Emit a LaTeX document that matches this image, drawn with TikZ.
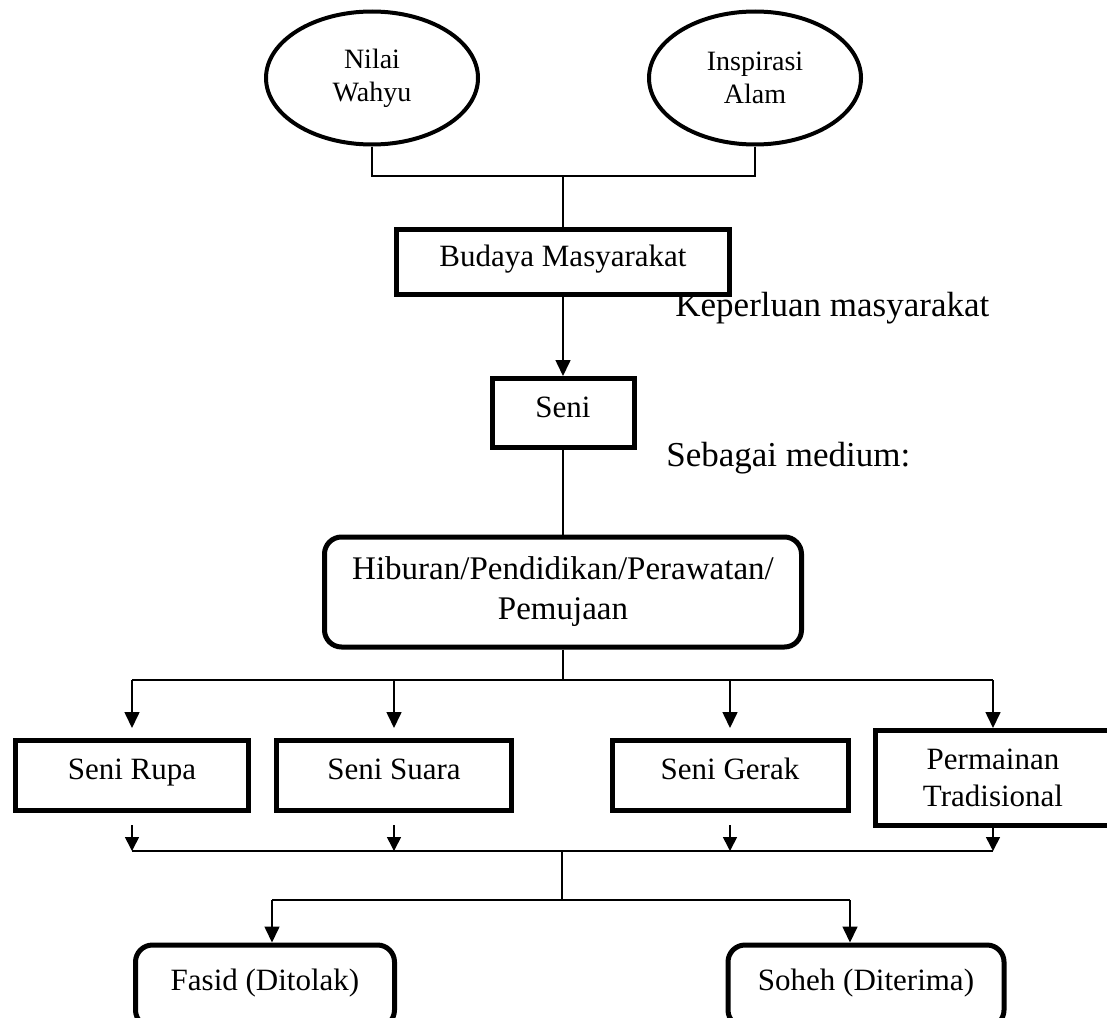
\documentclass[tikz,border=0pt]{standalone}
\usepackage{fontspec}
\setmainfont{Liberation Serif}
\usetikzlibrary{shapes.geometric,arrows.meta}

\begin{document}
\begin{tikzpicture}
            [
            x = 0.5pt, y = -0.5pt,
            link/.style = {line width = 0.8pt},
            arrow/.style = {link, -{Triangle[length = 8pt, width = 7.5pt]}},
            small arrow/.style = {link, -{Triangle[length = 7pt, width = 7pt]}},
            ]
            \tikzstyle{oval node}=[ellipse,draw,line width=2pt,align=center,minimum width=106pt,minimum height=66.5pt,font=\fontsize{14}{16.5}\selectfont]
            \tikzstyle{box node}=[rectangle,draw,line width=2.5pt,align=center,inner sep=0pt,text height=0.7em,text depth=0.22em,font=\fontsize{15.5}{18.5}\selectfont]
            \tikzstyle{round node}=[box node,rounded corners=8.5pt]
            \tikzstyle{note}=[inner sep=0pt,anchor=west,font=\fontsize{17.5}{20}\selectfont]

            \useasboundingbox (0,0) rectangle (1107,1017);

            % sumber
            \node[oval node] (nilai) at (372,78) {Nilai\\Wahyu};
            \node[oval node] (alam) at (755,78) {Inspirasi\\Alam};
            \node[box node, minimum width=166.5pt, minimum height=32.5pt] (budaya) at (563,262) {Budaya Masyarakat};
            \node[box node, minimum width=71pt, minimum height=34.5pt, font=\fontsize{15.5}{18}\selectfont] (seni) at (563,413) {Seni};
            \node[round node, minimum width=238.5pt, minimum height=55pt, text height=, text depth=, font=\fontsize{16.5}{20}\selectfont] (hiburan) at (563,592) {Hiburan/Pendidikan/Perawatan/\\Pemujaan};

            \node[note] (keperluan) at (675,308) {Keperluan masyarakat};
            \node[note] (sebagai) at (666,458) {Sebagai medium:};

            % cabang seni
            \node[box node, minimum width=116.5pt, minimum height=35pt] (rupa) at (132,775) {Seni Rupa};
            \node[box node, minimum width=117.5pt, minimum height=35pt] (suara) at (394,775) {Seni Suara};
            \node[box node, minimum width=118pt, minimum height=35pt] (gerak) at (730,775) {Seni Gerak};
            \node[box node, minimum width=117.5pt, minimum height=47.5pt, text height=, text depth=] (permainan) at (993,778) {Permainan\\Tradisional};

            % hukum
            \node[round node, minimum width=129.5pt, minimum height=41pt] (fasid) at (265,986) {Fasid (Ditolak)};
            \node[round node, minimum width=138pt, minimum height=41pt] (soheh) at (866,986) {Soheh (Diterima)};

            \coordinate (topjoin) at (563,176);
            \coordinate (midjoin) at (563,680);
            \coordinate (rowtip) at (0,728);
            \coordinate (rowout) at (0,825);
            \coordinate (lowjoin) at (562,851);
            \coordinate (botjoin) at (562,900);
            \coordinate (fasidin) at (272,900);
            \coordinate (sohehin) at (850,900);

            \draw[link] (nilai.south) |- (topjoin) -| (alam.south);
            \draw[link] (topjoin) -- (budaya.north);
            \draw[arrow] (budaya.south) -- (seni.north);
            \draw[link] (seni.south) -- (hiburan.north);
            \draw[link] (hiburan.south) -- (midjoin);
            \draw[link] (rupa.north |- midjoin) -- (permainan.north |- midjoin);
            \foreach \n in {rupa,suara,gerak,permainan}
                \draw[arrow] (\n.north |- midjoin) -- (\n.north |- rowtip);
            \foreach \n in {rupa,suara,gerak,permainan}
                \draw[small arrow] (\n.south |- rowout) -- (\n.south |- lowjoin);
            \draw[link] (rupa.south |- lowjoin) -- (permainan.south |- lowjoin);
            \draw[link] (lowjoin) -- (botjoin);
            \draw[link] (fasidin) -- (sohehin);
            \draw[arrow] (fasidin) -- (fasidin |- fasid.north);
            \draw[arrow] (sohehin) -- (sohehin |- soheh.north);
        \end{tikzpicture}
\end{document}
